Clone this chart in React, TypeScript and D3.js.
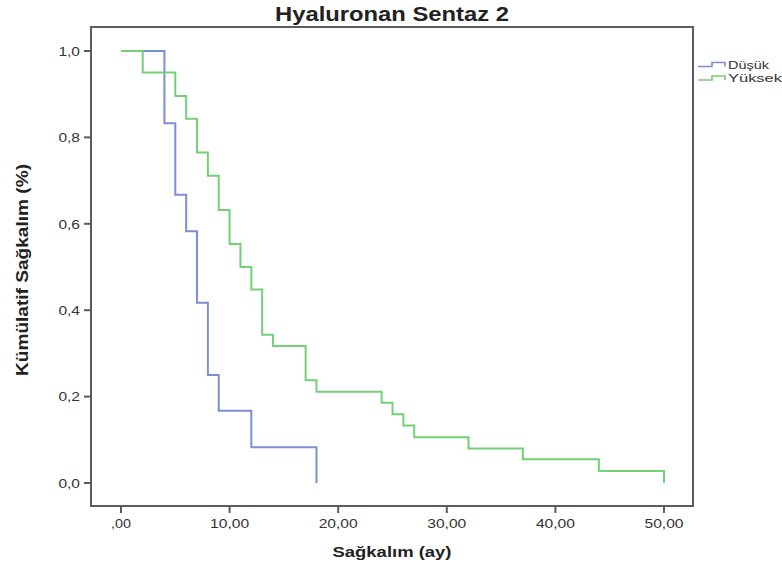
import React from "react";
import * as d3 from "d3";

const title = "Hyaluronan Sentaz 2";
const xLabel = "Sağkalım  (ay)";
const yLabel = "Kümülatif Sağkalım (%)";

const xTickValues = [0, 10, 20, 30, 40, 50];
const xTickLabels = [",00", "10,00", "20,00", "30,00", "40,00", "50,00"];
const yTickValues = [0, 0.2, 0.4, 0.6, 0.8, 1.0];
const yTickLabels = ["0,0", "0,2", "0,4", "0,6", "0,8", "1,0"];

const seriesNames = ["Düşük", "Yüksek"];
const dusukTimes = [0, 4, 5, 6, 7, 8, 9, 12, 18];
const dusukSurv = [1, 0.833, 0.667, 0.583, 0.417, 0.25, 0.167, 0.083, 0];
const yuksekTimes = [0, 2, 5, 6, 7, 8, 9, 10, 11, 12, 13, 14, 17, 18, 24, 25, 26, 27, 32, 37, 44, 50];
const yuksekSurv = [1, 0.95, 0.896, 0.843, 0.765, 0.711, 0.632, 0.553, 0.5, 0.448, 0.343, 0.317, 0.238, 0.211, 0.186, 0.159, 0.133, 0.106, 0.08, 0.055, 0.028, 0];

const colors = ["#7b8fd5", "#74d074"];
const FONT = "'Liberation Sans', Arial, sans-serif";

export default function App() {
  const W = 782, H = 571;
  const frame = { left: 91, top: 27, right: 693, bottom: 506 };
  const x = d3.scaleLinear().domain([0, 50]).range([121, 664]);
  const y = d3.scaleLinear().domain([0, 1]).range([483, 51]);
  const line = d3
    .line<[number, number]>()
    .x((d) => x(d[0]))
    .y((d) => y(d[1]))
    .curve(d3.curveStepAfter);

  const series = [
    dusukTimes.map((t, i) => [t, dusukSurv[i]] as [number, number]),
    yuksekTimes.map((t, i) => [t, yuksekSurv[i]] as [number, number]),
  ];

  const axisColor = "#5c5c5c";
  const textColor = "#333";

  return (
    <svg
      width={W}
      height={H}
      style={{ position: "absolute", left: 0, top: 0, background: "#fff" }}
      fontFamily={FONT}
    >
      <rect x={0} y={0} width={W} height={H} fill="#fff" />
      <text x={392} y={21} textAnchor="middle" fontSize={20} fontWeight="bold" fill="#222"
        textLength={234} lengthAdjust="spacingAndGlyphs">
        {title}
      </text>

      {/* frame */}
      <rect x={frame.left} y={frame.top} width={frame.right - frame.left} height={frame.bottom - frame.top}
        fill="none" stroke={axisColor} strokeWidth={2} />

      {/* y ticks */}
      {yTickValues.map((v, i) => (
        <g key={"y" + i}>
          <line x1={84} x2={frame.left} y1={y(v)} y2={y(v)} stroke={axisColor} strokeWidth={2} />
          <text x={80} y={y(v) + 4.7} textAnchor="end" fontSize={13.5} fill={textColor}
            textLength={yTickLabels[i].length * 7.2} lengthAdjust="spacingAndGlyphs">
            {yTickLabels[i]}
          </text>
        </g>
      ))}

      {/* x ticks */}
      {xTickValues.map((v, i) => (
        <g key={"x" + i}>
          <line x1={x(v)} x2={x(v)} y1={frame.bottom} y2={513} stroke={axisColor} strokeWidth={2} />
          <text x={x(v)} y={528} textAnchor="middle" fontSize={13.5} fill={textColor}
            textLength={i === 0 ? 20 : 39} lengthAdjust="spacingAndGlyphs">
            {xTickLabels[i]}
          </text>
        </g>
      ))}

      {/* curves */}
      {series.map((s, i) => (
        <path key={"s" + i} d={line(s) || ""} fill="none" stroke={colors[i]} strokeWidth={2} />
      ))}

      {/* legend */}
      {seriesNames.map((name, i) => {
        const ly = 66.5 + i * 13.5;
        return (
          <g key={"l" + i}>
            <path d={`M698,${ly} H712 V${ly - 4} H725 V${ly}`} fill="none" stroke={colors[i]} strokeWidth={1.6} />
            <text x={728} y={ly + 2} fontSize={11.5} fill={textColor}
              textLength={i === 0 ? 41 : 54} lengthAdjust="spacingAndGlyphs">
              {name}
            </text>
          </g>
        );
      })}

      {/* axis labels */}
      <text x={392} y={557} textAnchor="middle" fontSize={15.5} fontWeight="bold" fill="#222"
        textLength={119} lengthAdjust="spacingAndGlyphs">
        {xLabel}
      </text>
      <text transform="translate(28,270) rotate(-90)" textAnchor="middle" fontSize={16.5} fontWeight="bold" fill="#222"
        textLength={212} lengthAdjust="spacingAndGlyphs">
        {yLabel}
      </text>
    </svg>
  );
}
